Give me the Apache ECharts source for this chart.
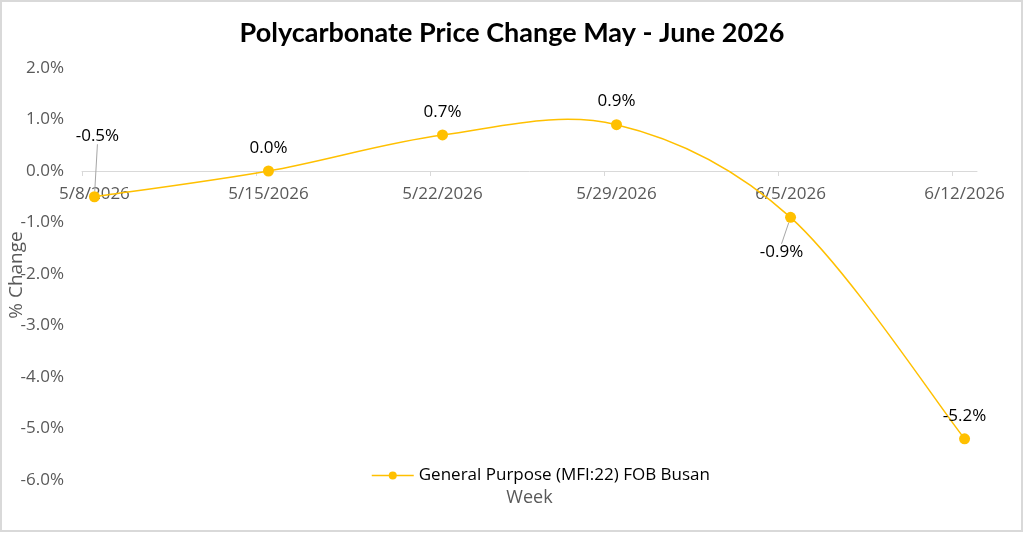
<!DOCTYPE html>
<html>
<head>
<meta charset="utf-8">
<script src="https://cdn.jsdelivr.net/npm/echarts@6/dist/echarts.min.js"></script>
<style>
  html, body { margin: 0; padding: 0; background: #fff; }
  #main { width: 1024px; height: 533px; }
</style>
</head>
<body>
<div id="main"></div>
<script>
// weekly price change, %
var weeks = ['5/8/2026', '5/15/2026', '5/22/2026', '5/29/2026', '6/5/2026', '6/12/2026'];
var changes = [-0.5, 0.0, 0.7, 0.9, -0.9, -5.2];
var yTicks = [-6, -5, -4, -3, -2, -1, 0, 1, 2];
var seriesName = 'General Purpose (MFI:22) FOB Busan';

var DAYS_PER_WEEK = 7;
// excel date axis: each point sits in the middle of its day
var weekPos = weeks.map(function (w, i) { return i * DAYS_PER_WEEK + 0.5; });
var tickPos = weeks.map(function (w, i) { return i * DAYS_PER_WEEK; });

// label nudges (px) for the two labels that use leader lines
var labelShift = {
    0: { dx: 3, dy: -38 },
    4: { dx: -9, dy: 58 }
};

var FONT = 'Open Sans';
var GOLD = '#FFC000';
var GRID = { left: 82, right: 47, top: 68, bottom: 53 };
var gridH = 533 - GRID.top - GRID.bottom;
var yMin = yTicks[0], yMax = yTicks[yTicks.length - 1];
// x axis sits on the zero line (excel style), labels included
var zeroOffset = -gridH * (0 - yMin) / (yMax - yMin);

// excel-like smoothed line: catmull-rom -> cubic bezier
function smoothPath(pts) {
    var d = 'M' + pts[0][0] + ' ' + pts[0][1];
    for (var i = 0; i < pts.length - 1; i++) {
        var p0 = pts[Math.max(i - 1, 0)], p1 = pts[i], p2 = pts[i + 1];
        var p3 = pts[Math.min(i + 2, pts.length - 1)];
        var c1 = [p1[0] + (p2[0] - p0[0]) / 6, p1[1] + (p2[1] - p0[1]) / 6];
        var c2 = [p2[0] - (p3[0] - p1[0]) / 6, p2[1] - (p3[1] - p1[1]) / 6];
        d += ' C' + c1[0] + ' ' + c1[1] + ' ' + c2[0] + ' ' + c2[1] + ' ' + p2[0] + ' ' + p2[1];
    }
    return d;
}

var myChart = echarts.init(document.getElementById('main'));

var option = {
    backgroundColor: '#fff',
    animation: false,
    title: {
        text: 'Polycarbonate Price Change May - June 2026',
        left: 'center',
        top: 15,
        textStyle: {
            fontFamily: 'Lato',
            fontWeight: 'bold',
            fontSize: 27,
            color: '#000'
        }
    },
    legend: {
        data: [{
            name: seriesName,
            lineStyle: { color: GOLD, width: 1.5, opacity: 1 }
        }],
        left: 366,
        top: 462,
        itemWidth: 42,
        itemHeight: 10,
        textStyle: { fontFamily: FONT, fontSize: 17, color: '#000' }
    },
    graphic: [
        {
            type: 'rect',
            shape: { x: 1, y: 1, width: 1021, height: 530 },
            style: { fill: 'none', stroke: '#d9d9d9', lineWidth: 2 },
            silent: true
        },
        {
            type: 'text',
            x: 17,
            y: 275,
            rotation: Math.PI / 2,
            style: {
                text: '% Change',
                fontFamily: FONT,
                fontSize: 19,
                fill: '#595959',
                align: 'center',
                verticalAlign: 'middle'
            }
        }
    ],
    grid: {
        left: GRID.left,
        right: GRID.right,
        top: GRID.top,
        bottom: GRID.bottom,
        outerBoundsMode: 'none',
        containLabel: false
    },
    xAxis: {
        type: 'value',
        min: 0,
        max: weeks.length * DAYS_PER_WEEK - 6,
        position: 'bottom',
        offset: zeroOffset,
        name: 'Week',
        nameLocation: 'middle',
        nameGap: 318,
        nameTextStyle: { fontFamily: FONT, fontSize: 18, color: '#595959' },
        axisLine: { onZero: false, lineStyle: { color: '#d9d9d9', width: 1 } },
        axisTick: {
            show: true,
            customValues: tickPos,
            length: 5,
            inside: false,
            lineStyle: { color: '#d9d9d9' }
        },
        axisLabel: {
            customValues: weekPos,
            margin: 15,
            fontFamily: FONT,
            fontSize: 17,
            color: '#595959',
            formatter: function (v) {
                var i = weekPos.indexOf(v);
                return i >= 0 ? weeks[i] : '';
            }
        },
        splitLine: { show: false }
    },
    yAxis: {
        type: 'value',
        min: yMin,
        max: yMax,
        interval: 1,
        axisLine: { show: false },
        axisTick: { show: false },
        splitLine: { show: false },
        axisLabel: {
            margin: 18,
            fontFamily: FONT,
            fontSize: 17,
            color: '#595959',
            formatter: function (v) { return v.toFixed(1) + '%'; }
        }
    },
    series: [
        {
            // the smoothed curve, drawn once through the axis scales
            type: 'custom',
            silent: true,
            z: 1,
            data: changes.map(function (v, i) { return [weekPos[i], v]; }),
            renderItem: function (params, api) {
                if (params.dataIndex !== 0) return;
                var pts = changes.map(function (v, i) { return api.coord([weekPos[i], v]); });
                return {
                    type: 'path',
                    shape: { pathData: smoothPath(pts) },
                    style: { fill: 'none', stroke: GOLD, lineWidth: 1.5 }
                };
            }
        },
        {
            name: seriesName,
            type: 'line',
            z: 2,
            data: changes.map(function (v, i) {
                return {
                    value: [weekPos[i], v],
                    labelLine: { show: !!labelShift[i] }
                };
            }),
            symbol: 'circle',
            symbolSize: 11,
            lineStyle: { color: GOLD, width: 0, opacity: 0 },
            itemStyle: { color: GOLD },
            label: {
                show: true,
                position: 'top',
                distance: 9,
                fontFamily: FONT,
                fontSize: 17,
                color: '#000',
                formatter: function (p) { return p.value[1].toFixed(1) + '%'; }
            },
            labelLine: {
                show: false,
                lineStyle: { color: '#a6a6a6', width: 1 }
            },
            labelLayout: function (p) {
                var s = labelShift[p.dataIndex];
                return s ? { dx: s.dx, dy: s.dy } : {};
            }
        }
    ]
};

myChart.setOption(option);
</script>
</body>
</html>
